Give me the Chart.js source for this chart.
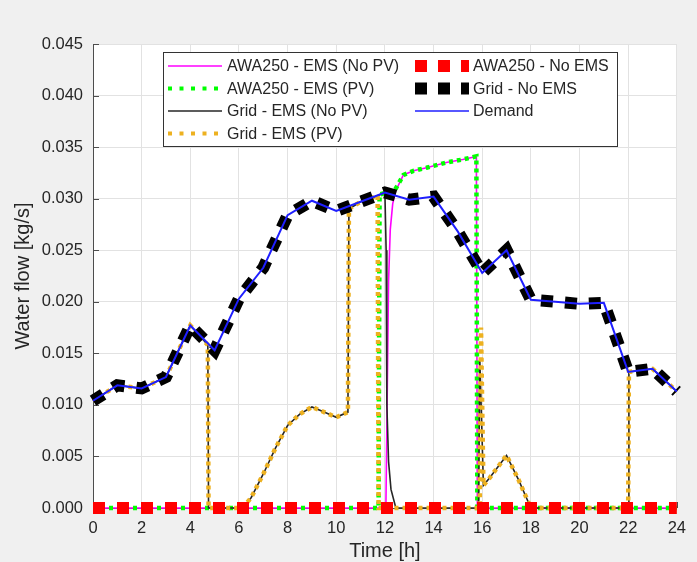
<!DOCTYPE html>
<html>
<head>
<meta charset="utf-8">
<script src="https://cdn.jsdelivr.net/npm/chart.js@4.4.0/dist/chart.umd.min.js"></script>
<style>
  html, body { margin: 0; padding: 0; background: #f0f0f0; }
  #wrap { width: 697px; height: 562px; position: relative; }
</style>
</head>
<body>
<div id="wrap"><canvas id="flowChart" width="697" height="562"></canvas></div>
<script>
// ---- hourly profiles ----
const hours = [0, 1, 2, 3, 4, 5, 6, 7, 8, 9, 10, 11, 12, 13, 14, 15, 16, 17, 18, 19, 20, 21, 22, 23, 24];
const demandFlow = [0.0104, 0.0119, 0.0116, 0.0127, 0.0177, 0.0153, 0.0203, 0.0233, 0.0284, 0.0298, 0.0288, 0.0297, 0.0306,
                    0.0299, 0.0302, 0.0268, 0.0228, 0.0250, 0.0202, 0.0200, 0.0198, 0.0199, 0.0132, 0.0135, 0.0113];
const gridNoEmsFlow = [0.0104, 0.0119, 0.0116, 0.0127, 0.0177, 0.0153, 0.0203, 0.0233, 0.0284, 0.0298, 0.0288, 0.0297, 0.0306,
                       0.0299, 0.0302, 0.0268, 0.0228, 0.0250, 0.0202, 0.0200, 0.0198, 0.0199, 0.0132, 0.0135, 0.0113];
const awaNoEmsFlow = [0, 0, 0, 0, 0, 0, 0, 0, 0, 0, 0, 0, 0, 0, 0, 0, 0, 0, 0, 0, 0, 0, 0, 0, 0];

// ---- EMS schedules (time in h, flow in kg/s) ----
const gridPvTime = [0, 1, 2, 3, 4, 4.72, 4.75, 6.15, 6.5, 7, 7.5, 8, 8.5, 9, 9.5, 10, 10.48, 10.52, 11, 11.5, 11.7, 11.74,
                    15.9, 15.95, 16.05, 16.3, 17, 17.5, 18, 22, 22.03, 23, 24];
const gridPvFlow = [0.0104, 0.0119, 0.0116, 0.0127, 0.0177, 0.0158, 0, 0, 0.0010, 0.0033, 0.0058, 0.0080, 0.0091, 0.0098,
                    0.0093, 0.0088, 0.0093, 0.0290, 0.0297, 0.0301, 0.0303, 0,
                    0, 0.0175, 0.0022, 0.0029, 0.0051, 0.0027, 0, 0, 0.0132, 0.0135, 0.0113];

const gridNoPvTime = [0, 1, 2, 3, 4, 4.72, 4.75, 6.15, 6.5, 7, 7.5, 8, 8.5, 9, 9.5, 10, 10.48, 10.52, 11, 11.5, 12, 12.05,
                      12.08, 12.15, 12.25, 12.45, 15.85, 15.9, 16.05, 16.3, 17, 17.5, 18, 22, 22.03, 23, 24];
const gridNoPvFlow = [0.0104, 0.0119, 0.0116, 0.0127, 0.0177, 0.0158, 0, 0, 0.0010, 0.0033, 0.0058, 0.0080, 0.0091, 0.0098,
                      0.0093, 0.0088, 0.0093, 0.0290, 0.0297, 0.0301, 0.0306, 0.0250,
                      0.0100, 0.0045, 0.0018, 0, 0, 0.0145, 0.0022, 0.0029, 0.0051, 0.0027, 0, 0, 0.0132, 0.0135, 0.0113];

const awaPvTime = [0, 11.74, 11.78, 12.4, 12.76, 13.17, 13.71, 14.52, 15.2, 15.76, 15.8, 24];
const awaPvFlow = [0, 0, 0.0304, 0.0308, 0.0323, 0.0327, 0.0330, 0.0335, 0.0338, 0.0341, 0, 0];

const awaNoPvTime = [0, 12.04, 12.1, 12.15, 12.22, 12.32, 12.45, 12.76, 13.17, 13.71, 14.52, 15.2, 15.76, 15.8, 24];
const awaNoPvFlow = [0, 0, 0.0120, 0.0220, 0.0270, 0.0295, 0.0308, 0.0323, 0.0327, 0.0330, 0.0335, 0.0338, 0.0341, 0, 0];

// ---- axis ticks ----
const timeTicks = [0, 2, 4, 6, 8, 10, 12, 14, 16, 18, 20, 22, 24];
const flowTicks = [0, 0.005, 0.010, 0.015, 0.020, 0.025, 0.030, 0.035, 0.040, 0.045];

const toPoints = (xs, ys) => xs.map((x, i) => ({ x: x, y: ys[i] }));

const DOTTED = [4, 4];
const DASHED = [12, 12];
const FONT = "'Liberation Sans', Arial, Helvetica, sans-serif";

// plotted in this sequence; later series sit on top
const series = [
  { label: 'AWA250 - EMS (No PV)', data: toPoints(awaNoPvTime, awaNoPvFlow), borderColor: '#ff00ff', borderWidth: 1.6, borderDash: [], legendDash: [], legendWidth: 1.6 },
  { label: 'AWA250 - EMS (PV)',    data: toPoints(awaPvTime, awaPvFlow),     borderColor: '#00ff00', borderWidth: 4.5, borderDash: DOTTED, legendDash: [4, 7.5], legendWidth: 4 },
  { label: 'Grid - EMS (No PV)',   data: toPoints(gridNoPvTime, gridNoPvFlow), borderColor: '#262626', borderWidth: 1.6, borderDash: [], legendDash: [], legendWidth: 1.6 },
  { label: 'Grid - EMS (PV)',      data: toPoints(gridPvTime, gridPvFlow),   borderColor: '#edb120', borderWidth: 4.5, borderDash: DOTTED, legendDash: [4, 7.5], legendWidth: 4 },
  { label: 'AWA250 - No EMS',      data: toPoints(hours, awaNoEmsFlow),      borderColor: '#ff0000', borderWidth: 12,  borderDash: DASHED, legendDash: [12, 11], legendWidth: 12 },
  { label: 'Grid - No EMS',        data: toPoints(hours, gridNoEmsFlow),     borderColor: '#000000', borderWidth: 12,  borderDash: DASHED, legendDash: [12, 11], legendWidth: 12 },
  { label: 'Demand',               data: toPoints(hours, demandFlow),        borderColor: '#1f1fff', borderWidth: 2,   borderDash: [], legendDash: [], legendWidth: 1.6 }
];

const datasets = series.map((s, i) => ({
  label: s.label,
  data: s.data,
  borderColor: s.borderColor,
  backgroundColor: s.borderColor,
  borderWidth: s.borderWidth,
  borderDash: s.borderDash,
  borderCapStyle: 'butt',
  borderJoinStyle: 'miter',
  pointRadius: 0,
  tension: 0,
  fill: false,
  clip: false,
  order: series.length - 1 - i
}));

// figure background and white axes area
const backdrop = {
  id: 'backdrop',
  beforeDraw(chart) {
    const { ctx, chartArea: a } = chart;
    ctx.save();
    ctx.fillStyle = '#f0f0f0';
    ctx.fillRect(0, 0, chart.width, chart.height);
    ctx.fillStyle = '#ffffff';
    ctx.fillRect(a.left, a.top, a.right - a.left, a.bottom - a.top);
    ctx.restore();
  },
  beforeDatasetsDraw(chart) {
    // inward tick marks on the left and bottom axes
    const { ctx, chartArea: a, scales } = chart;
    ctx.save();
    ctx.strokeStyle = '#4d4d4d';
    ctx.lineWidth = 1;
    ctx.beginPath();
    flowTicks.forEach(v => {
      const y = Math.round(scales.y.getPixelForValue(v)) + 0.5;
      ctx.moveTo(a.left, y); ctx.lineTo(a.left + 6, y);
    });
    timeTicks.forEach(t => {
      const x = Math.round(scales.x.getPixelForValue(t)) + 0.5;
      ctx.moveTo(x, a.bottom); ctx.lineTo(x, a.bottom - 6);
    });
    ctx.stroke();
    ctx.restore();
  }
};

// two-column legend box inside the axes
const boxLegend = {
  id: 'boxLegend',
  afterDraw(chart) {
    const { ctx } = chart;
    const box = { x: 163.5, y: 52.5, w: 454, h: 94 };
    const rows = [66, 88.5, 111, 133.5];
    const cols = [{ lx: 168, tx: 227 }, { lx: 415, tx: 473 }];
    const slots = [[0, 0], [0, 1], [0, 2], [0, 3], [1, 0], [1, 1], [1, 2]];
    ctx.save();
    ctx.fillStyle = '#ffffff';
    ctx.fillRect(box.x, box.y, box.w, box.h);
    ctx.strokeStyle = '#333333';
    ctx.lineWidth = 1;
    ctx.setLineDash([]);
    ctx.strokeRect(box.x, box.y, box.w, box.h);
    ctx.font = '16px ' + FONT;
    ctx.textBaseline = 'middle';
    ctx.textAlign = 'left';
    series.forEach((s, i) => {
      const col = cols[slots[i][0]];
      const y = rows[slots[i][1]];
      ctx.beginPath();
      ctx.setLineDash(s.legendDash);
      ctx.lineDashOffset = 0;
      ctx.lineCap = 'butt';
      ctx.strokeStyle = s.borderColor;
      ctx.lineWidth = s.legendWidth;
      ctx.moveTo(col.lx, y);
      ctx.lineTo(col.lx + 54, y);
      ctx.stroke();
      ctx.setLineDash([]);
      ctx.fillStyle = '#262626';
      ctx.fillText(s.label, col.tx, y + 1);
    });
    ctx.restore();
  }
};

new Chart(document.getElementById('flowChart'), {
  type: 'line',
  data: { datasets: datasets },
  plugins: [backdrop, boxLegend],
  options: {
    responsive: false,
    animation: false,
    devicePixelRatio: 1,
    layout: { padding: { left: 0, right: 14, top: 44, bottom: 0 } },
    plugins: { legend: { display: false }, tooltip: { enabled: false } },
    scales: {
      x: {
        type: 'linear',
        min: 0, max: 24,
        afterBuildTicks(scale) { scale.ticks = timeTicks.map(v => ({ value: v })); },
        afterFit(scale) { scale.height = 54; },
        grid: { color: '#e2e2e2', drawTicks: false },
        border: { color: '#4d4d4d', width: 1 },
        ticks: { color: '#262626', font: { family: FONT, size: 16.5 }, padding: 11, maxRotation: 0, autoSkip: false },
        title: { display: true, text: 'Time [h]', color: '#262626', font: { family: FONT, size: 20, lineHeight: 1.1 }, padding: { top: 0, bottom: 0 } }
      },
      y: {
        type: 'linear',
        min: 0, max: 0.045,
        afterBuildTicks(scale) { scale.ticks = flowTicks.map(v => ({ value: v })); },
        afterFit(scale) { scale.width = 93; },
        grid: { color: '#e2e2e2', drawTicks: false },
        border: { color: '#4d4d4d', width: 1 },
        ticks: { color: '#262626', font: { family: FONT, size: 16.5 }, padding: 10, callback: v => v.toFixed(3) },
        title: { display: true, text: 'Water flow [kg/s]', color: '#262626', font: { family: FONT, size: 20, lineHeight: 1.1 }, padding: { top: 12, bottom: 0 } }
      }
    }
  }
});
</script>
</body>
</html>
